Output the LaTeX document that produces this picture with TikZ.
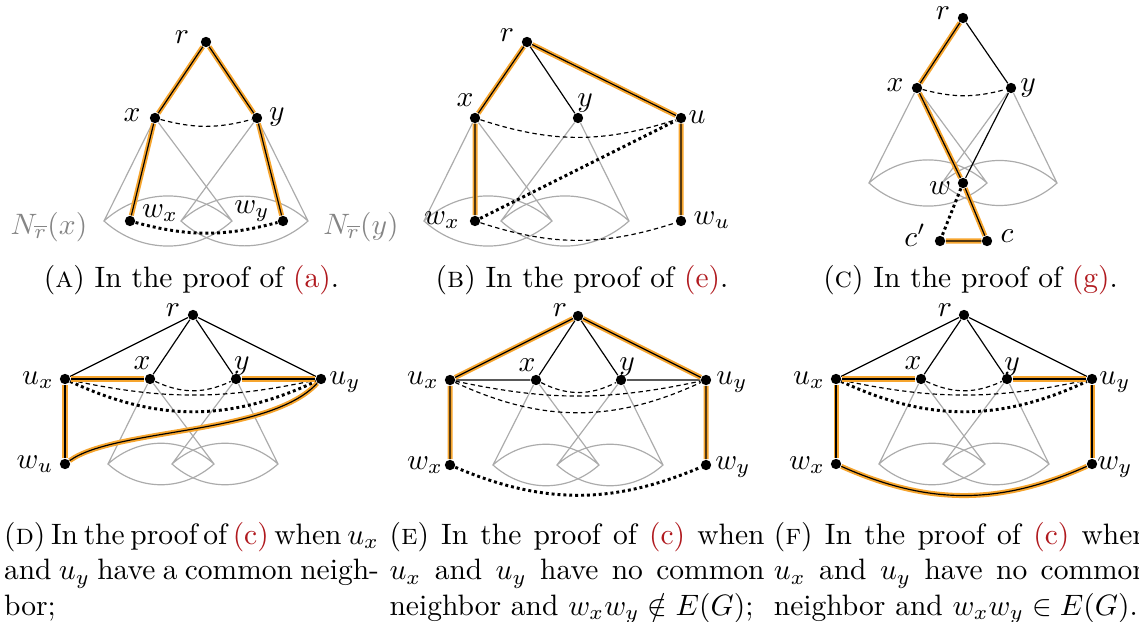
\documentclass[tikz,border=0pt]{standalone}
\usepackage{amsmath}
\usepackage{amssymb}
\usepackage{tikz}
\usepackage{xcolor}
\usetikzlibrary{positioning, backgrounds}
\definecolor{hlorange}{HTML}{F6A52E}
\definecolor{conegray}{HTML}{ABABAB}
\definecolor{labelgray}{HTML}{858585}
\definecolor{refred}{HTML}{B0191E}

\begin{document}
\begin{tikzpicture}[x=0.339pt, y=0.339pt,
  vtx/.style={circle, fill=black, inner sep=0pt, minimum size=3.5pt},
  lbl/.style={inner sep=0pt},
  nlbl/.style={inner sep=0pt, text=labelgray},
  cone/.style={draw=conegray, line width=0.4pt},
  thinedge/.style={draw=black, line width=0.4pt},
  hledge/.style={preaction={draw=hlorange, line width=1.7pt}, draw=black, line width=0.4pt},
  nonedge/.style={draw=black, line width=0.4pt, dash pattern=on 1.5pt off 1.1pt},
  keyedge/.style={draw=black, line width=1pt, dash pattern=on 1pt off 1pt},
  topcap/.style={anchor=base, inner sep=0pt},
  botcap/.style={anchor=north west, inner sep=0pt, text width=127.1pt, align=justify,
    execute at begin node={\spaceskip=3.33pt plus 2pt minus 1.8pt}}]

\useasboundingbox (0,0) rectangle (1139,-622);

\node[vtx] (rA) at (206,-42) {};
\node[vtx] (xA) at (155,-118) {};
\node[vtx] (yA) at (257,-118) {};
\node[vtx] (wxA) at (130,-221) {};
\node[vtx] (wyA) at (283,-221) {};
\coordinate (xAl) at (104,-221);
\coordinate (xAr) at (232,-221);
\coordinate (yAl) at (181,-221);
\coordinate (yAr) at (308,-221);
\node[lbl] (rAt) at (182,-37) {$r$};
\node[lbl] (xAt) at (132,-115) {$x$};
\node[lbl] (yAt) at (277,-117) {$y$};
\node[lbl] (wxAt) at (160,-213) {$w_x$};
\node[lbl] (wyAt) at (252,-211) {$w_y$};
\node[nlbl] (nxA) at (49,-227) {$N_{\overline{r}}(x)$};
\node[nlbl] (nyA) at (361,-227) {$N_{\overline{r}}(y)$};
\node[topcap] (capA) at (191.5,-288) {(\textsc{a}) In the proof of \textcolor{refred}{(a)}.};

\node[vtx] (rB) at (527,-42) {};
\node[vtx] (xB) at (475,-118) {};
\node[vtx] (yB) at (578,-118) {};
\node[vtx] (uB) at (681,-118) {};
\node[vtx] (wxB) at (475,-221) {};
\node[vtx] (wuB) at (681,-221) {};
\coordinate (xBl) at (424,-221);
\coordinate (xBr) at (552,-221);
\coordinate (yBl) at (501,-221);
\coordinate (yBr) at (629,-221);
\node[lbl] (rBt) at (507,-35) {$r$};
\node[lbl] (xBt) at (465,-100) {$x$};
\node[lbl] (yBt) at (585,-103) {$y$};
\node[lbl] (uBt) at (697,-117) {$u$};
\node[lbl] (wxBt) at (442,-220) {$w_x$};
\node[lbl] (wuBt) at (712,-220) {$w_u$};
\node[topcap] (capB) at (582,-288) {(\textsc{b}) In the proof of \textcolor{refred}{(e)}.};

\node[vtx] (rC) at (963,-18) {};
\node[vtx] (xC) at (917,-88) {};
\node[vtx] (yC) at (1011,-88) {};
\node[vtx] (wC) at (963,-183) {};
\node[vtx] (cpC) at (940,-241) {};
\node[vtx] (cC) at (987,-241) {};
\coordinate (xCl) at (869,-183);
\coordinate (xCr) at (987,-183);
\coordinate (yCl) at (942,-183);
\coordinate (yCr) at (1057,-183);
\node[lbl] (rCt) at (943,-13) {$r$};
\node[lbl] (xCt) at (895,-85) {$x$};
\node[lbl] (yCt) at (1028,-88) {$y$};
\node[lbl] (wCt) at (940,-188) {$w$};
\node[lbl] (cpCt) at (915,-235) {$c'$};
\node[lbl] (cCt) at (1007,-236) {$c$};
\node[topcap] (capC) at (970.5,-288) {(\textsc{c}) In the proof of \textcolor{refred}{(g)}.};

\node[vtx] (rD) at (193,-315) {};
\node[vtx] (uxD) at (65,-379) {};
\node[vtx] (xD) at (150,-379) {};
\node[vtx] (yD) at (236,-379) {};
\node[vtx] (uyD) at (321,-379) {};
\node[vtx] (wuD) at (65,-464) {};
\coordinate (xDl) at (108,-464);
\coordinate (xDr) at (214,-464);
\coordinate (yDl) at (172,-464);
\coordinate (yDr) at (278,-464);
\node[lbl] (rDt) at (173,-310) {$r$};
\node[lbl] (xDt) at (142,-363) {$x$};
\node[lbl] (yDt) at (242,-366) {$y$};
\node[lbl] (uxDt) at (38,-380) {$u_x$};
\node[lbl] (uyDt) at (345,-382) {$u_y$};
\node[lbl] (wuDt) at (35,-464) {$w_u$};
\node[botcap] (capD) at (3.5,-521.5) {(\textsc{d}) In the proof of \textcolor{refred}{(c)} when $u_x$\linebreak and $u_y$ have a common neigh-\linebreak bor;};

\node[vtx] (rE) at (578,-316) {};
\node[vtx] (uxE) at (450,-380) {};
\node[vtx] (xE) at (536,-380) {};
\node[vtx] (yE) at (621,-380) {};
\node[vtx] (uyE) at (706,-380) {};
\node[vtx] (wxE) at (450,-465) {};
\node[vtx] (wyE) at (706,-465) {};
\coordinate (xEl) at (493,-465);
\coordinate (xEr) at (599,-465);
\coordinate (yEl) at (557,-465);
\coordinate (yEr) at (663,-465);
\node[lbl] (rEt) at (560,-310) {$r$};
\node[lbl] (xEt) at (527,-365) {$x$};
\node[lbl] (yEt) at (627,-367) {$y$};
\node[lbl] (uxEt) at (423,-380) {$u_x$};
\node[lbl] (uyEt) at (732,-382) {$u_y$};
\node[lbl] (wxEt) at (425,-465) {$w_x$};
\node[lbl] (wyEt) at (733,-467) {$w_y$};
\node[botcap] (capE) at (389,-521.5) {(\textsc{e}) In the proof of \textcolor{refred}{(c)} when\linebreak $u_x$ and $u_y$ have no common\linebreak neighbor and $w_xw_y\notin E(G)$;};

\node[vtx] (rF) at (964,-315) {};
\node[vtx] (uxF) at (836,-379) {};
\node[vtx] (xF) at (921,-379) {};
\node[vtx] (yF) at (1007,-379) {};
\node[vtx] (uyF) at (1092,-379) {};
\node[vtx] (wxF) at (836,-464) {};
\node[vtx] (wyF) at (1092,-464) {};
\coordinate (xFl) at (879,-464);
\coordinate (xFr) at (985,-464);
\coordinate (yFl) at (943,-464);
\coordinate (yFr) at (1049,-464);
\node[lbl] (rFt) at (945,-310) {$r$};
\node[lbl] (xFt) at (913,-363) {$x$};
\node[lbl] (yFt) at (1012,-367) {$y$};
\node[lbl] (uxFt) at (809,-380) {$u_x$};
\node[lbl] (uyFt) at (1115,-382) {$u_y$};
\node[lbl] (wxFt) at (807,-465) {$w_x$};
\node[lbl] (wyFt) at (1115,-467) {$w_y$};
\node[botcap] (capF) at (773.3,-521.5) {(\textsc{f}) In the proof of \textcolor{refred}{(c)} when\linebreak $u_x$ and $u_y$ have no common\linebreak neighbor and $w_xw_y\in E(G)$.};

\begin{scope}[on background layer]
\draw[cone] (xAl) -- (xA) -- (xAr) to[bend left=42] (xAl) to[bend left=42] (xAr);
\draw[cone] (yAl) -- (yA) -- (yAr) to[bend left=42] (yAl) to[bend left=42] (yAr);
\draw[nonedge] (xA) to[bend right=15] (yA);
\draw[keyedge] (wxA) to[bend right=15] (wyA);
\draw[hledge] (rA) -- (xA) -- (wxA);
\draw[hledge] (rA) -- (yA) -- (wyA);

\draw[cone] (xBl) -- (xB) -- (xBr) to[bend left=42] (xBl) to[bend left=42] (xBr);
\draw[cone] (yBl) -- (yB) -- (yBr) to[bend left=42] (yBl) to[bend left=42] (yBr);
\draw[nonedge] (xB) to[bend right=18] (uB);
\draw[nonedge] (wxB) to[bend right=18] (wuB);
\draw[keyedge] (wxB) -- (uB);
\draw[thinedge] (rB) -- (yB);
\draw[hledge] (wxB) -- (xB) -- (rB) -- (uB) -- (wuB);

\draw[cone] (xCl) -- (xC) -- (xCr) to[bend left=42] (xCl) to[bend left=42] (xCr);
\draw[cone] (yCl) -- (yC) -- (yCr) to[bend left=42] (yCl) to[bend left=42] (yCr);
\draw[nonedge] (xC) to[bend right=15] (yC);
\draw[thinedge] (rC) -- (yC) -- (wC);
\draw[keyedge] (wC) -- (cpC);
\draw[hledge] (rC) -- (xC) -- (wC) -- (cC) -- (cpC);

\draw[cone] (xDl) -- (xD) -- (xDr) to[bend left=42] (xDl) to[bend left=42] (xDr);
\draw[cone] (yDl) -- (yD) -- (yDr) to[bend left=42] (yDl) to[bend left=42] (yDr);
\draw[thinedge] (uxD) -- (rD) -- (uyD) (rD) -- (xD) (rD) -- (yD);
\draw[nonedge] (xD) to[bend right=25] (yD);
\draw[nonedge] (uxD) to[bend right=12] (uyD);
\draw[keyedge] (uxD) to[bend right=25] (uyD);
\draw[hledge] (wuD) -- (uxD) -- (xD);
\draw[hledge] (yD) -- (uyD);
\draw[hledge] (wuD) .. controls (115,-428) and (270,-435) .. (uyD);

\draw[cone] (xEl) -- (xE) -- (xEr) to[bend left=42] (xEl) to[bend left=42] (xEr);
\draw[cone] (yEl) -- (yE) -- (yEr) to[bend left=42] (yEl) to[bend left=42] (yEr);
\draw[thinedge] (xE) -- (rE) -- (yE) (uxE) -- (xE) (yE) -- (uyE);
\draw[nonedge] (xE) to[bend right=27] (yE);
\draw[nonedge] (uxE) to[bend right=12] (uyE);
\draw[nonedge] (uxE) to[bend right=25] (uyE);
\draw[keyedge] (wxE) to[bend right=23] (wyE);
\draw[hledge] (wxE) -- (uxE) -- (rE) -- (uyE) -- (wyE);

\draw[cone] (xFl) -- (xF) -- (xFr) to[bend left=42] (xFl) to[bend left=42] (xFr);
\draw[cone] (yFl) -- (yF) -- (yFr) to[bend left=42] (yFl) to[bend left=42] (yFr);
\draw[thinedge] (uxF) -- (rF) -- (uyF) (rF) -- (xF) (rF) -- (yF);
\draw[nonedge] (xF) to[bend right=25] (yF);
\draw[nonedge] (uxF) to[bend right=12] (uyF);
\draw[keyedge] (uxF) to[bend right=25] (uyF);
\draw[hledge] (xF) -- (uxF) -- (wxF);
\draw[hledge] (yF) -- (uyF) -- (wyF);
\draw[hledge] (wxF) to[bend right=24] (wyF);
\end{scope}
\end{tikzpicture}
\end{document}
